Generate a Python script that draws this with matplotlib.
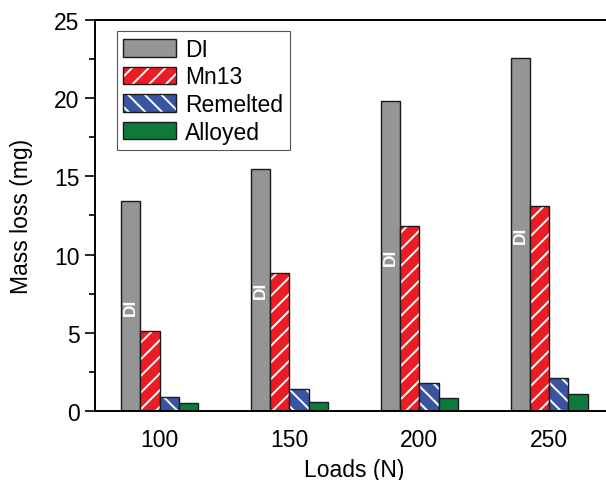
import matplotlib
matplotlib.use("Agg")
import matplotlib.pyplot as plt
import numpy as np
from matplotlib.patches import Patch
from matplotlib.ticker import MultipleLocator

loads = [100, 150, 200, 250]
di = [13.4, 15.5, 19.8, 22.6]
mn13 = [5.1, 8.8, 11.8, 13.1]
remelted = [0.9, 1.4, 1.8, 2.1]
alloyed = [0.5, 0.6, 0.8, 1.1]

GRAY, RED, BLUE, GREEN = "#959595", "#ed1c24", "#3a54a4", "#0e7a3e"
EDGE = "#1a1a1a"

plt.rcParams.update({
    "font.family": ["Liberation Sans", "DejaVu Sans"],
    "font.size": 16.5,
    "hatch.linewidth": 1.4,
})

fig = plt.figure(figsize=(6.06, 4.81), dpi=100)
ax = fig.add_axes([0.1563, 0.1435, 0.857, 0.8129])

x = np.array(loads, dtype=float)
w = 7.4
series = [("DI", di, GRAY, None), ("Mn13", mn13, RED, "//"),
          ("Remelted", remelted, BLUE, "\\\\"), ("Alloyed", alloyed, GREEN, None)]
handles = []
for i, (name, vals, col, hatch) in enumerate(series):
    xs = x + (i - 1.5) * w
    if hatch:
        # white hatch first, then a dark outline on top
        ax.bar(xs, vals, w, color=col, edgecolor="white", hatch=hatch, lw=0)
        ax.bar(xs, vals, w, color="none", edgecolor=EDGE, lw=1.0)
        h = (Patch(facecolor=col, edgecolor="white", hatch=hatch, lw=0),
             Patch(facecolor="none", edgecolor=EDGE, lw=1.0))
    else:
        ax.bar(xs, vals, w, color=col, edgecolor=EDGE, lw=1.0)
        h = Patch(facecolor=col, edgecolor=EDGE, lw=1.0)
    handles.append(h)

# DI labels inside the grey bars
for xi, v in zip(x - 1.5 * w, di):
    ax.text(xi, v / 2, "DI", rotation=90, color="white", fontsize=12.5,
            fontweight="bold", ha="center", va="center")

ax.set_xlim(75, 275)
ax.set_ylim(0, 25)
ax.set_xticks(loads)
ax.yaxis.set_major_locator(MultipleLocator(5))
ax.yaxis.set_minor_locator(MultipleLocator(2.5))
ax.tick_params(axis="x", length=0, pad=12)
ax.tick_params(axis="y", which="major", direction="out", length=7, width=1.2, pad=4)
ax.tick_params(axis="y", which="minor", direction="out", length=4, width=1.2)
ax.spines["right"].set_visible(False)
for s in ("left", "bottom", "top"):
    ax.spines[s].set_linewidth(1.4)
ax.set_xlabel("Loads (N)", labelpad=5)
ax.set_ylabel("Mass loss (mg)", labelpad=15)

leg = ax.legend(handles, ["DI", "Mn13", "Remelted", "Alloyed"],
                loc="upper left", bbox_to_anchor=(0.042, 0.972), borderaxespad=0,
                handlelength=2.3, handleheight=0.8, handletextpad=0.4,
                labelspacing=0.2, borderpad=0.3, fancybox=False,
                edgecolor="#555555", framealpha=1)
leg.get_frame().set_linewidth(0.8)

fig.savefig("out.png", dpi=100)
